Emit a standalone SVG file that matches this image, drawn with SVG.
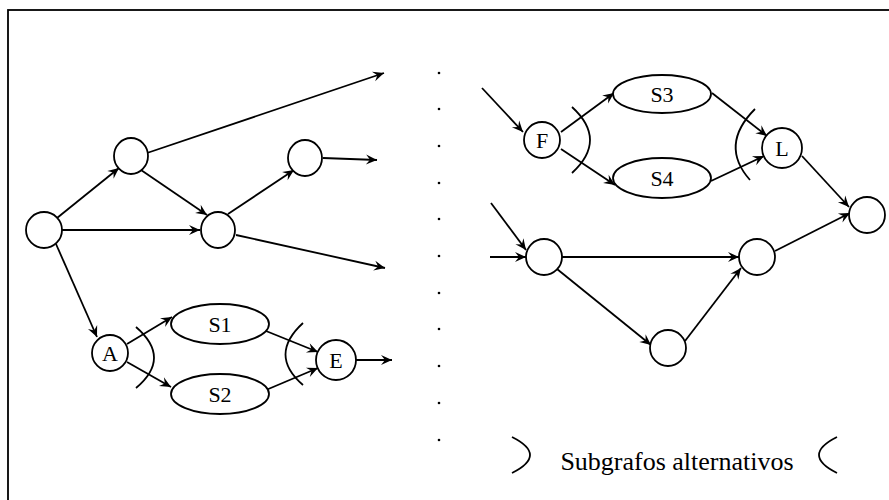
<svg xmlns="http://www.w3.org/2000/svg" width="889" height="500" viewBox="0 0 889 500">
<defs>
<marker id="ah" viewBox="-12 -6 13 12" refX="0" refY="0" markerWidth="13" markerHeight="12" markerUnits="userSpaceOnUse" orient="auto">
<path d="M0,0 L-11,-5 L-7,0 L-11,5 Z" fill="#000"/>
</marker>
<style>
.n{fill:#fff;stroke:#000;stroke-width:1.8}
.c{stroke:#000;stroke-width:1.8;fill:none;marker-end:url(#ah)}
.a{stroke:#000;stroke-width:1.8;fill:none}
.t{font-family:"Liberation Serif","Times New Roman",serif;font-size:22px;fill:#000;text-anchor:middle}
.lg{font-size:26px}
.d{fill:#000}
</style>
</defs>
<rect width="889" height="500" fill="#fff"/>
<rect x="8" y="10" width="900" height="500" fill="none" stroke="#000" stroke-width="1.8"/>
<g id="connectors">
<line class="c" x1="57" y1="218" x2="119" y2="168"/>
<line class="c" x1="62" y1="230" x2="200" y2="230"/>
<line class="c" x1="56" y1="244" x2="97" y2="337"/>
<line class="c" x1="147" y1="153" x2="384" y2="73"/>
<line class="c" x1="141" y1="170" x2="207" y2="215"/>
<line class="c" x1="228" y1="214" x2="294" y2="170"/>
<line class="c" x1="323" y1="158" x2="377" y2="160"/>
<line class="c" x1="236" y1="235" x2="385" y2="268"/>
<line class="c" x1="127" y1="344" x2="172" y2="317"/>
<line class="c" x1="127" y1="362" x2="171" y2="387"/>
<line class="c" x1="266" y1="331" x2="318" y2="352"/>
<line class="c" x1="266" y1="390" x2="318" y2="368"/>
<line class="c" x1="356" y1="360" x2="392" y2="360"/>
<line class="c" x1="482" y1="88" x2="523" y2="132"/>
<line class="c" x1="561" y1="132" x2="614" y2="93"/>
<line class="c" x1="561" y1="149" x2="615" y2="185"/>
<line class="c" x1="712" y1="93" x2="767" y2="136"/>
<line class="c" x1="711" y1="181" x2="764" y2="156"/>
<line class="c" x1="802" y1="156" x2="849" y2="207"/>
<line class="c" x1="491" y1="203" x2="526" y2="250"/>
<line class="c" x1="490" y1="257" x2="526" y2="257"/>
<line class="c" x1="562" y1="257" x2="739" y2="257"/>
<line class="c" x1="557" y1="269" x2="651" y2="345"/>
<line class="c" x1="685" y1="341" x2="741" y2="268"/>
<line class="c" x1="775" y1="251" x2="850" y2="213"/>
</g>
<g id="arcs">
<path class="a" d="M136,327 Q172,358 136,388"/>
<path class="a" d="M303,323 Q268,355 303,385"/>
<path class="a" d="M572,107 Q608,140 572,173"/>
<path class="a" d="M755,109 Q719,145 750,180"/>
</g>
<g id="n0"><ellipse class="n" cx="44" cy="230" rx="18" ry="18"/></g>
<g id="n1"><ellipse class="n" cx="131" cy="156" rx="17" ry="18"/></g>
<g id="n2"><ellipse class="n" cx="218" cy="230" rx="17" ry="18"/></g>
<g id="n3"><ellipse class="n" cx="305" cy="158" rx="17" ry="18"/></g>
<g id="A"><circle class="n" cx="110" cy="353" r="18"/><text class="t" x="110" y="361">A</text></g>
<g id="S1"><ellipse class="n" cx="220" cy="324" rx="49" ry="20"/><text class="t" x="220" y="332">S1</text></g>
<g id="S2"><ellipse class="n" cx="220" cy="394" rx="49" ry="20"/><text class="t" x="220" y="402">S2</text></g>
<g id="E"><circle class="n" cx="336" cy="360" r="20"/><text class="t" x="336" y="368">E</text></g>
<g id="F"><circle class="n" cx="542" cy="140" r="18"/><text class="t" x="542" y="148">F</text></g>
<g id="S3"><ellipse class="n" cx="662" cy="94" rx="49" ry="19"/><text class="t" x="662" y="102">S3</text></g>
<g id="S4"><ellipse class="n" cx="662" cy="178" rx="49" ry="20"/><text class="t" x="662" y="186">S4</text></g>
<g id="L"><circle class="n" cx="782" cy="148" r="20"/><text class="t" x="782" y="156">L</text></g>
<g id="r1"><circle class="n" cx="867" cy="215" r="18"/></g>
<g id="m1"><circle class="n" cx="544" cy="257" r="18"/></g>
<g id="m2"><circle class="n" cx="757" cy="257" r="18"/></g>
<g id="m3"><circle class="n" cx="668" cy="348" r="18"/></g>
<g id="dots">
<circle class="d" cx="439" cy="73" r="1.3"/>
<circle class="d" cx="439" cy="109" r="1.3"/>
<circle class="d" cx="439" cy="146" r="1.3"/>
<circle class="d" cx="439" cy="183" r="1.3"/>
<circle class="d" cx="439" cy="219" r="1.3"/>
<circle class="d" cx="439" cy="256" r="1.3"/>
<circle class="d" cx="439" cy="293" r="1.3"/>
<circle class="d" cx="439" cy="329" r="1.3"/>
<circle class="d" cx="439" cy="366" r="1.3"/>
<circle class="d" cx="439" cy="403" r="1.3"/>
<circle class="d" cx="439" cy="440" r="1.3"/>
</g>
<g id="legend">
<path class="a" d="M512,437 Q548,455 512,473"/>
<text class="t lg" x="677" y="470">Subgrafos alternativos</text>
<path class="a" d="M837,437 Q801,455 837,473"/>
</g>
</svg>
